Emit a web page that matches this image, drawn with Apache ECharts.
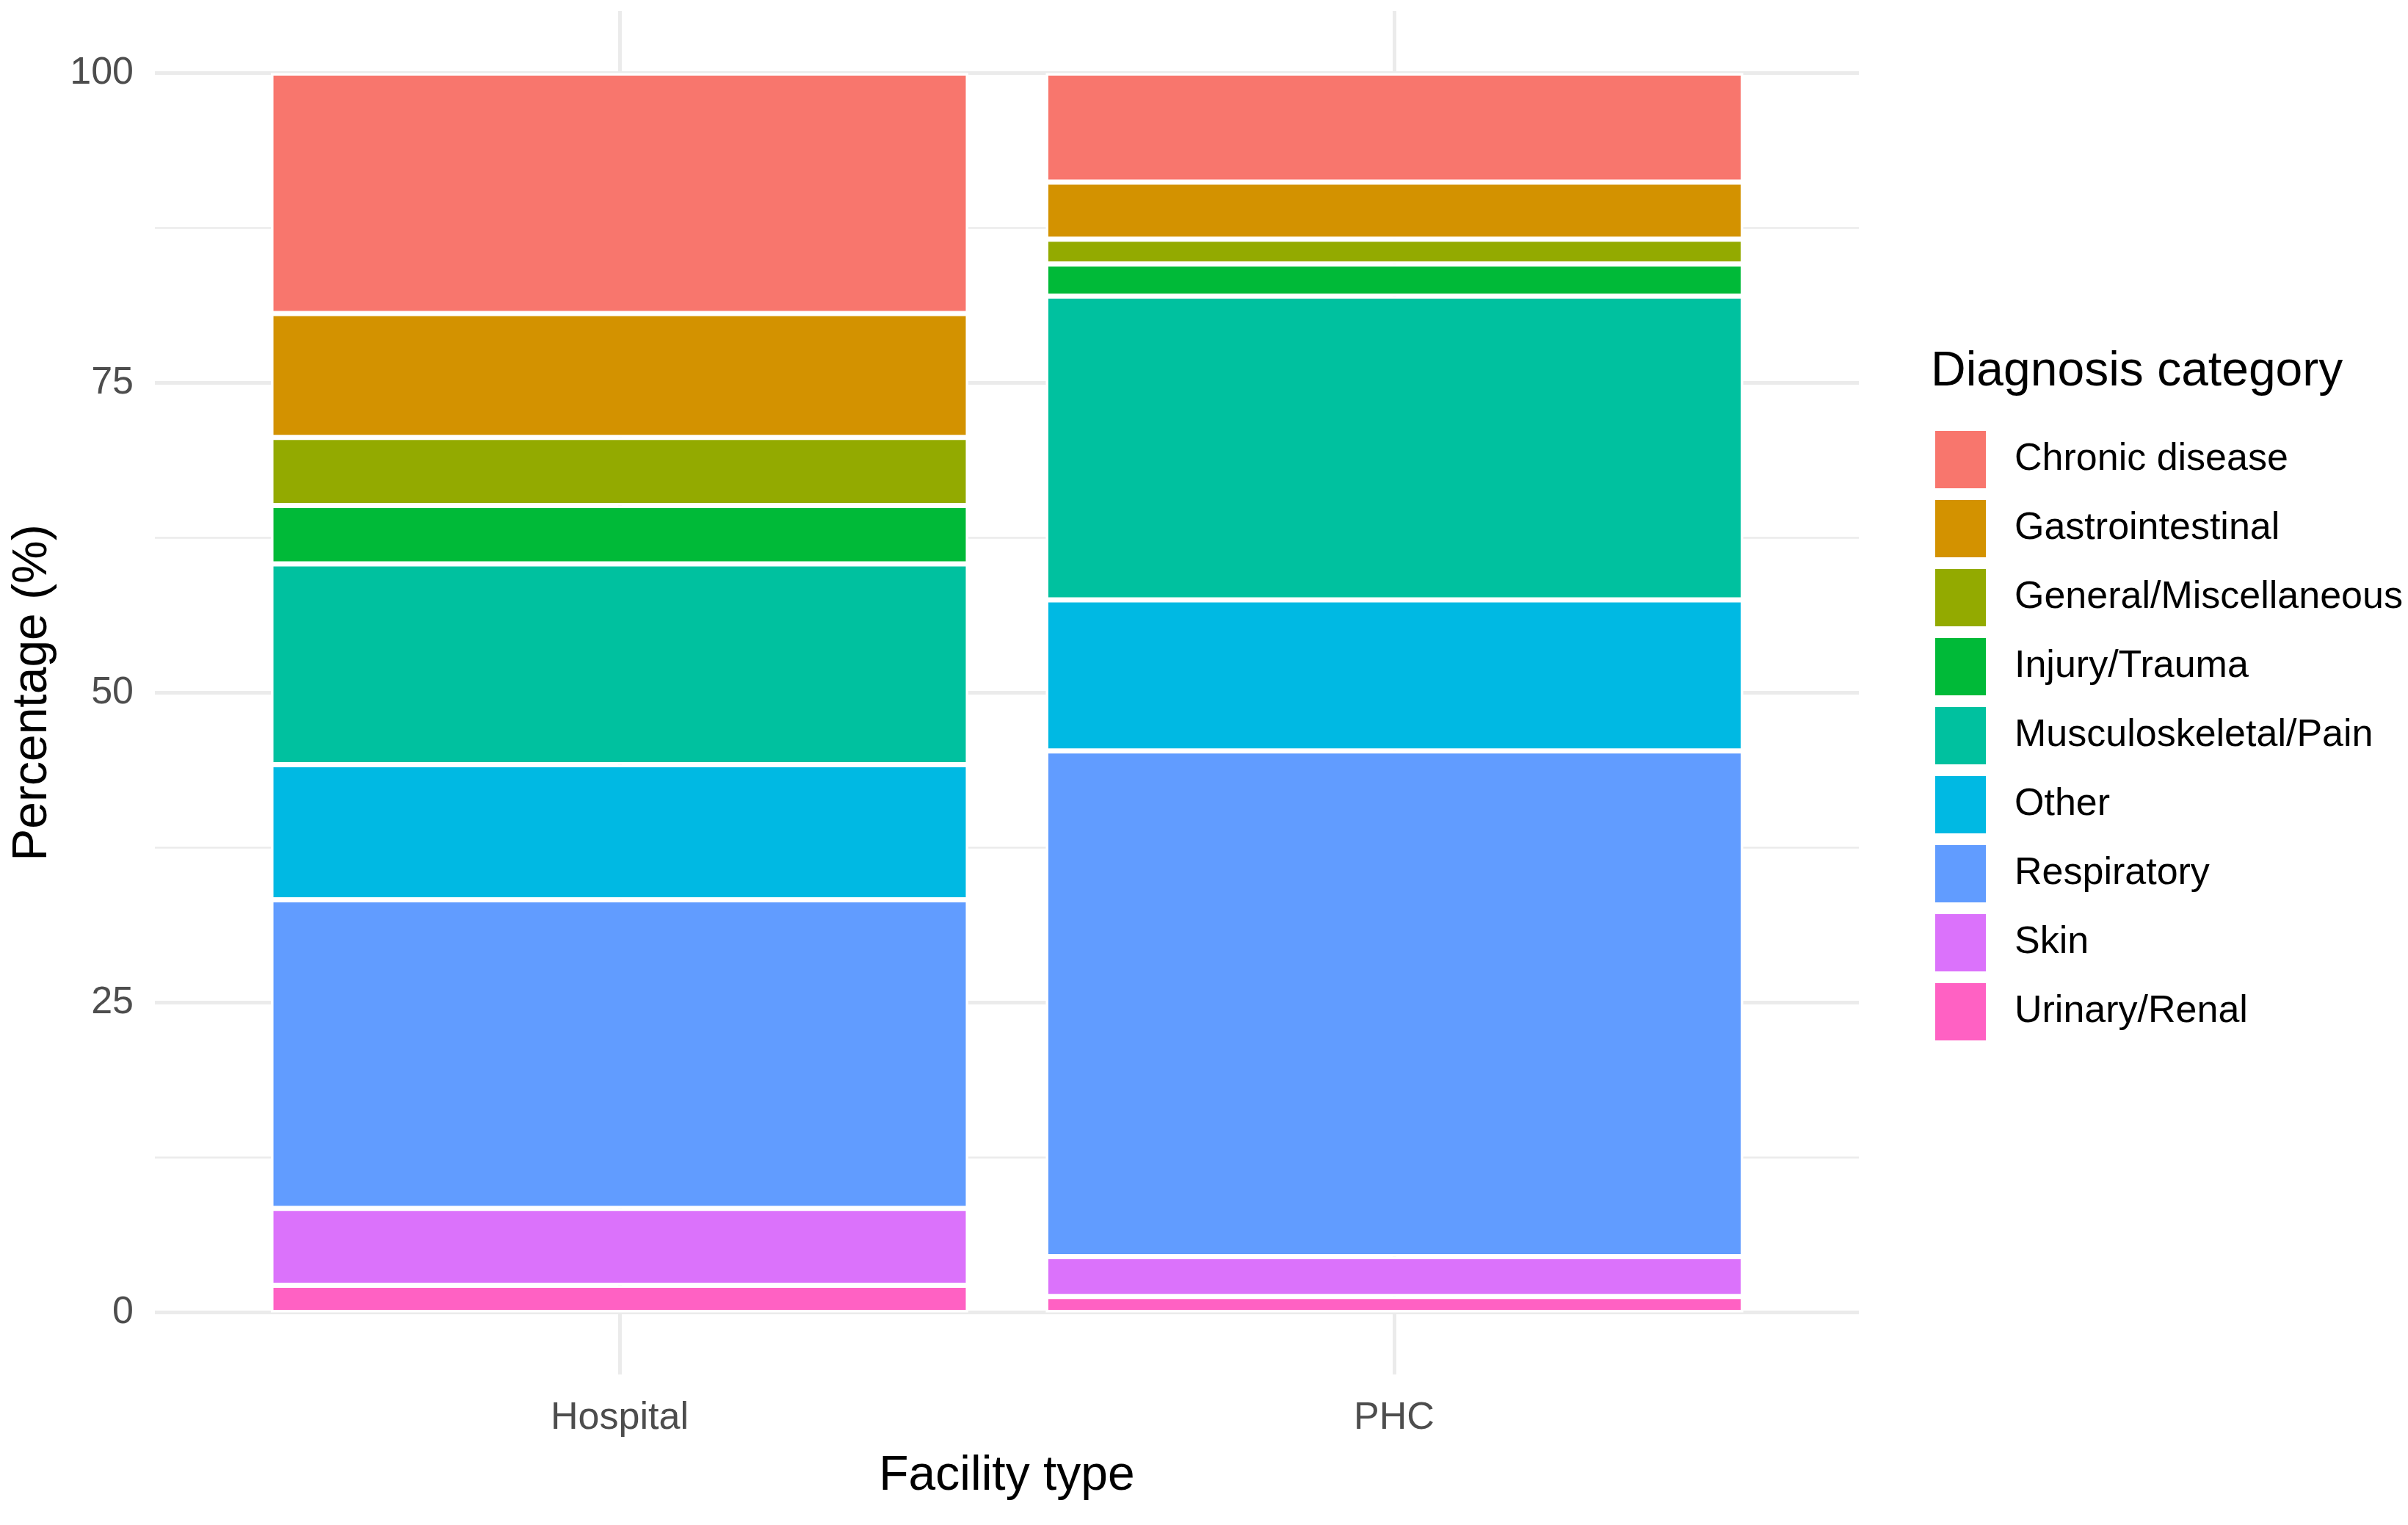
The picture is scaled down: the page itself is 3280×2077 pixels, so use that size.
<!DOCTYPE html>
<html>
<head>
<meta charset="utf-8">
<script src="https://cdn.jsdelivr.net/npm/echarts@6/dist/echarts.min.js"></script>
<style>
  html, body { margin: 0; padding: 0; background: #ffffff; }
  #chart { width: 3280px; height: 2077px; }
</style>
</head>
<body>
<div id="chart"></div>
<script>
// ---- data ----
const facilities = ['Hospital', 'PHC'];
const diagnosisCategories = [
  'Chronic disease', 'Gastrointestinal', 'General/Miscellaneous', 'Injury/Trauma',
  'Musculoskeletal/Pain', 'Other', 'Respiratory', 'Skin', 'Urinary/Renal'
];
// percentages per facility, in the order of diagnosisCategories
const hospitalValues = [19.4, 10.0, 5.5, 4.7, 16.2, 10.9, 24.9, 6.2, 2.2];
const phcValues      = [8.8, 4.6, 2.0, 2.6, 24.5, 12.2, 40.8, 3.2, 1.3];
const yTickValues = [0, 25, 50, 75, 100];
const yMinorValues = [12.5, 37.5, 62.5, 87.5];
const categoryColors = ['#F8766D', '#D39200', '#93AA00', '#00BA38', '#00C19F', '#00B9E3', '#619CFF', '#DB72FB', '#FF61C3'];

// ---- chart ----
const FONT = "'Liberation Sans', Arial, sans-serif";
const facilityPositions = facilities.map((f, i) => i + 1);

// ggplot stacks the first level on top -> add series in reverse order
const series = [];
for (let k = diagnosisCategories.length - 1; k >= 0; k--) {
  series.push({
    name: diagnosisCategories[k],
    type: 'bar',
    stack: 'total',
    xAxisIndex: 1,
    yAxisIndex: 2,
    barWidth: 950,
    clip: false,
    itemStyle: { color: categoryColors[k], borderColor: '#ffffff', borderWidth: 3.5 },
    emphasis: { disabled: true },
    data: [hospitalValues[k], phcValues[k]]
  });
}

const GRID_TOP = 15, GRID_BOTTOM = 205;

const chart = echarts.init(document.getElementById('chart'), null, { renderer: 'canvas' });
chart.setOption({
  animation: false,
  backgroundColor: '#ffffff',
  color: categoryColors,
  textStyle: { fontFamily: FONT },
  title: {
    text: 'Diagnosis category',
    left: 2630,
    top: 474,
    padding: 0,
    textStyle: { fontFamily: FONT, fontSize: 66, fontWeight: 'normal', color: '#000000' }
  },
  legend: {
    orient: 'vertical',
    left: 2634,
    top: 585,
    padding: 0,
    itemWidth: 71,
    itemHeight: 80,
    itemGap: 12,
    icon: 'rect',
    data: diagnosisCategories,
    selectedMode: false,
    textStyle: { fontFamily: FONT, fontSize: 52, color: '#000000', padding: [0, 0, 0, 33] }
  },
  grid: [
    // panel with grid lines and axis labels
    { left: 211, right: 748, top: GRID_TOP, bottom: GRID_BOTTOM, containLabel: false },
    // bar placement: category centres at the two ends
    { left: 844, right: 1380.5, top: GRID_TOP, bottom: GRID_BOTTOM, containLabel: false }
  ],
  xAxis: [
    {
      gridIndex: 0,
      type: 'value',
      min: 0.4,
      max: 2.6,
      name: 'Facility type',
      nameLocation: 'middle',
      nameGap: 106,
      nameTextStyle: { fontFamily: FONT, fontSize: 66, color: '#000000' },
      axisLine: { show: false },
      axisTick: { show: false, customValues: facilityPositions },
      axisLabel: {
        customValues: facilityPositions,
        formatter: (v) => facilities[Math.round(v) - 1],
        margin: 34,
        fontFamily: FONT, fontSize: 52, color: '#4d4d4d'
      },
      splitLine: { show: true, lineStyle: { color: '#ebebeb', width: 5 } }
    },
    {
      gridIndex: 1,
      type: 'category',
      data: facilities,
      boundaryGap: false,
      show: false
    }
  ],
  yAxis: [
    {
      gridIndex: 0,
      type: 'value',
      min: -5,
      max: 105,
      name: 'Percentage (%)',
      nameLocation: 'middle',
      nameGap: 133,
      nameTextStyle: { fontFamily: FONT, fontSize: 66, color: '#000000' },
      axisLine: { show: false },
      axisTick: { show: false, customValues: yTickValues },
      axisLabel: {
        customValues: yTickValues,
        margin: 29,
        fontFamily: FONT, fontSize: 52, color: '#4d4d4d'
      },
      splitLine: { show: true, lineStyle: { color: '#ebebeb', width: 5 } }
    },
    {
      gridIndex: 0,
      type: 'value',
      min: -5,
      max: 105,
      position: 'left',
      axisLine: { show: false },
      axisTick: { show: false, customValues: yMinorValues },
      axisLabel: { show: false, customValues: yMinorValues },
      splitLine: { show: true, lineStyle: { color: '#ebebeb', width: 2.5 } }
    },
    {
      gridIndex: 1,
      type: 'value',
      min: -5,
      max: 105,
      show: false,
      splitLine: { show: false }
    }
  ],
  series: series
});
</script>
</body>
</html>
